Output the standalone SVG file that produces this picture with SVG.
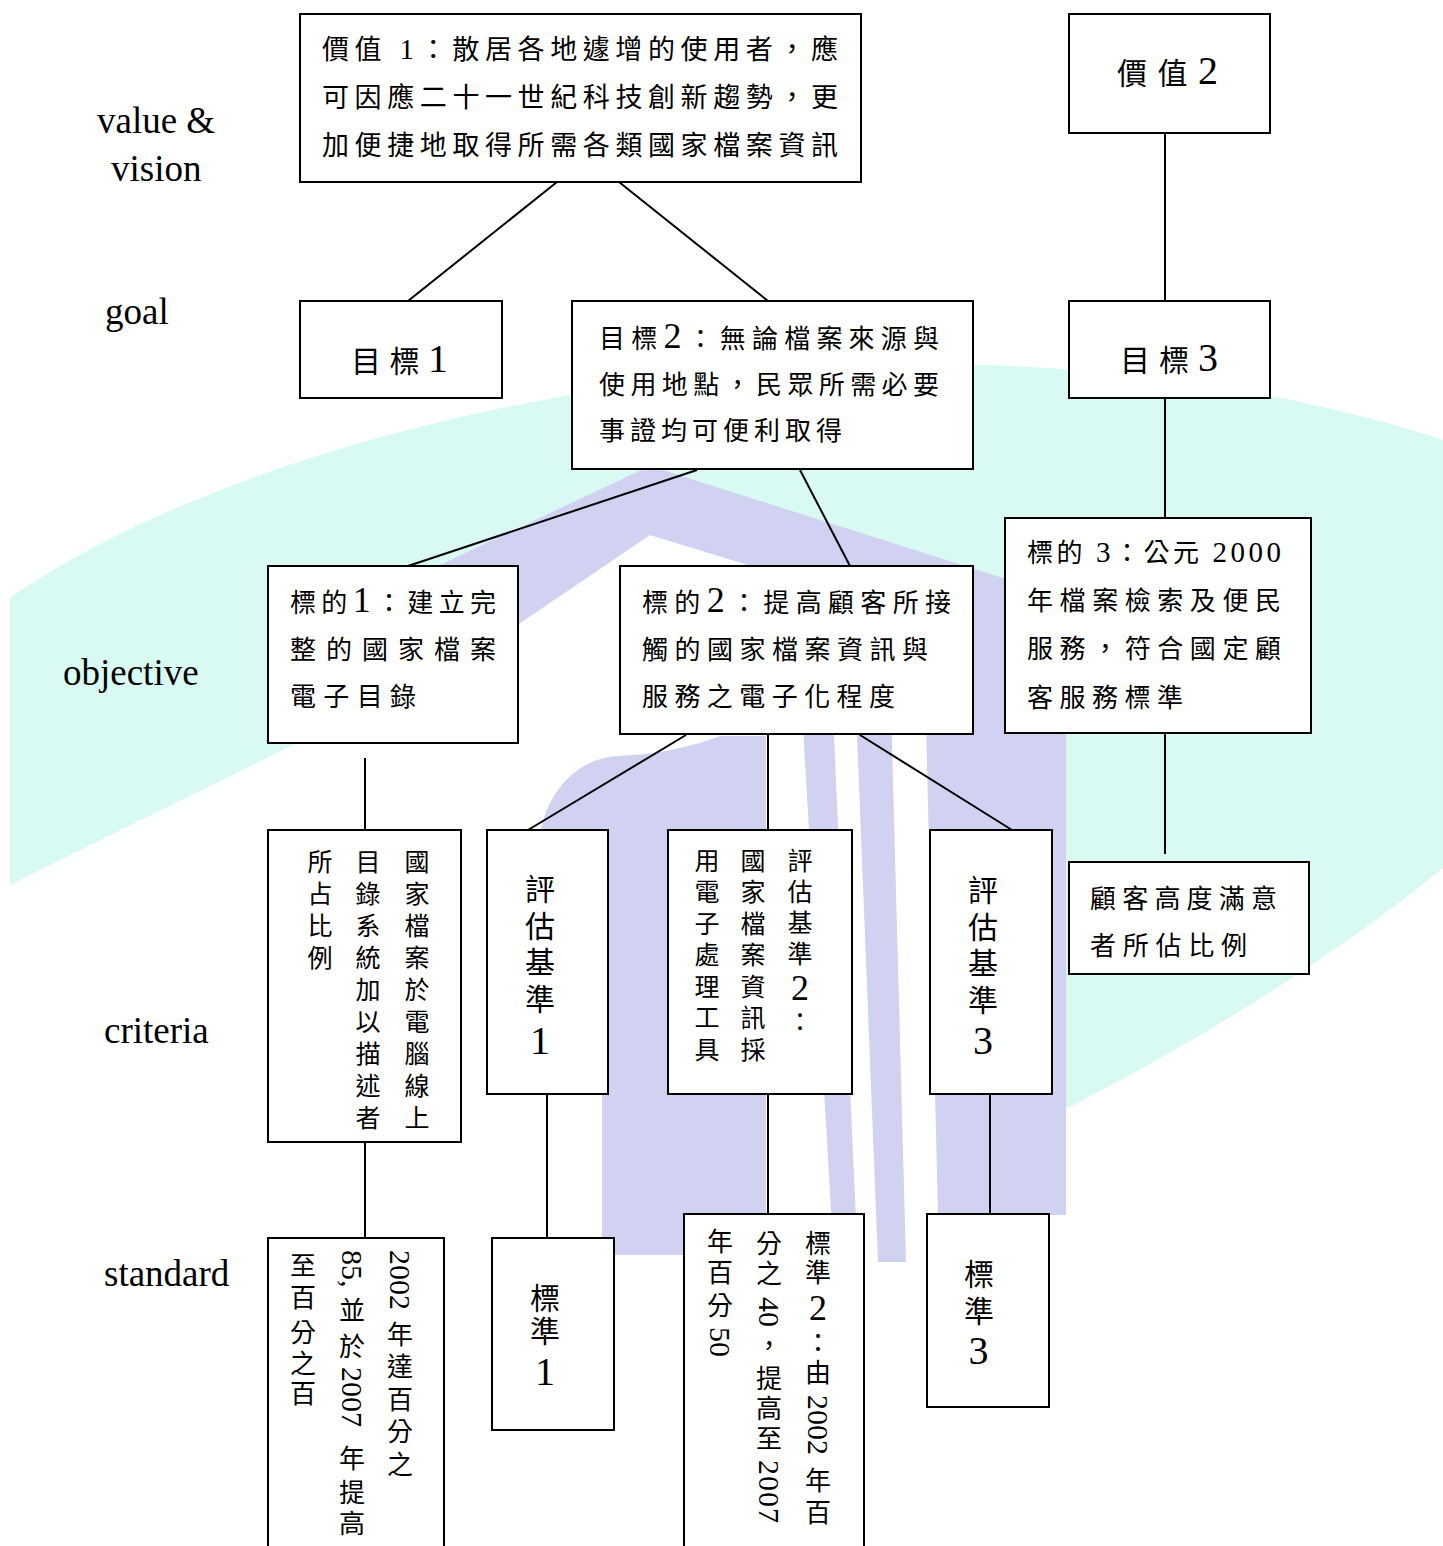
<svg xmlns="http://www.w3.org/2000/svg" width="1443" height="1546" viewBox="0 0 1443 1546">
<style>
.box{fill:#fff;stroke:#000;stroke-width:2}
.ln{stroke:#000;stroke-width:2;fill:none}
.lab{font-family:"Liberation Serif",serif;font-size:37px;fill:#000}
.h26{font-family:"Liberation Serif","Noto Sans CJK TC",serif;font-size:26px;fill:#000}
.h27{font-family:"Liberation Serif","Noto Sans CJK TC",serif;font-size:27px;fill:#000}
.h30{font-family:"Liberation Serif","Noto Sans CJK TC",serif;font-size:30px;fill:#000}
.v25{font-family:"Liberation Serif","Noto Sans CJK TC",serif;font-size:25px;fill:#000}
.v26{font-family:"Liberation Serif","Noto Sans CJK TC",serif;font-size:26px;fill:#000}
.v30{font-family:"Liberation Serif","Noto Sans CJK TC",serif;font-size:30px;fill:#000}
.dg36{font-size:36px}
.dg40{font-size:40px}
.n29{font-size:29px}
.rd{font-family:"Liberation Serif",serif;font-size:30px}
.cy{fill:#d8faf3}
.pu{fill:#d1d1f1}
</style>
<rect x="0" y="0" width="1443" height="1546" fill="#fff"/>
<g id="watermark">
<path class="cy" d="M10 598 C150 500 420 398 780 368 C1060 350 1300 392 1443 440 L1443 868 C1330 960 1200 1040 1068 1108 L1060 1108 L1060 662 L650 535 L470 657 L10 885 Z"/>
<polygon class="pu" points="425,572 650,466 1066,598 1066,662 650,535 470,657"/>
<path class="pu" d="M540 834 C548 790 578 758 618 756 C650 755 690 748 720 736 L766 736 L766 1255 L602 1255 L602 1094 L540 1094 Z"/>
<polygon class="pu" points="798,640 830,650 858,1262 834,1262"/>
<polygon class="pu" points="854,660 890,670 906,1262 878,1262"/>
<polygon class="pu" points="923,600 1066,640 1066,1215 938,1215"/>
</g>
<g id="levels">
<text class="lab" x="97" y="133">value &amp;</text>
<text class="lab" x="111" y="181">vision</text>
<text class="lab" x="105" y="324">goal</text>
<text class="lab" x="63" y="685">objective</text>
<text class="lab" x="104" y="1043">criteria</text>
<text class="lab" x="104" y="1286">standard</text>
</g>
<g id="connectors">
<line class="ln" x1="557" y1="182" x2="408" y2="301"/>
<line class="ln" x1="619" y1="182" x2="768" y2="301"/>
<line class="ln" x1="1165" y1="133" x2="1165" y2="301"/>
<line class="ln" x1="697" y1="470" x2="408" y2="566"/>
<line class="ln" x1="800" y1="470" x2="850" y2="566"/>
<line class="ln" x1="1165" y1="398" x2="1165" y2="518"/>
<line class="ln" x1="365" y1="758" x2="365" y2="830"/>
<line class="ln" x1="686" y1="735" x2="528" y2="830"/>
<line class="ln" x1="768" y1="734" x2="768" y2="830"/>
<line class="ln" x1="860" y1="735" x2="1012" y2="830"/>
<line class="ln" x1="1165" y1="733" x2="1165" y2="854"/>
<line class="ln" x1="365" y1="1142" x2="365" y2="1238"/>
<line class="ln" x1="547" y1="1094" x2="547" y2="1238"/>
<line class="ln" x1="768" y1="1094" x2="768" y2="1214"/>
<line class="ln" x1="990" y1="1094" x2="990" y2="1214"/>
</g>
<g id="n-value1">
<rect class="box" x="300" y="14" width="561" height="168"/>
<text class="h27" x="322" y="59" textLength="516" lengthAdjust="spacing">價值 <tspan class="n29">1</tspan>：散居各地遽增的使用者，應</text>
<text class="h27" x="322" y="107" textLength="516" lengthAdjust="spacing">可因應二十一世紀科技創新趨勢，更</text>
<text class="h27" x="322" y="155" textLength="516" lengthAdjust="spacing">加便捷地取得所需各類國家檔案資訊</text>
</g>
<g id="n-value2">
<rect class="box" x="1069" y="14" width="201" height="119"/>
<text class="h30" x="1117" y="84" textLength="101" lengthAdjust="spacing">價值<tspan class="dg40">2</tspan></text>
</g>
<g id="n-goal1">
<rect class="box" x="300" y="301" width="202" height="97"/>
<text class="h30" x="351" y="372" textLength="97" lengthAdjust="spacing">目標<tspan class="dg40">1</tspan></text>
</g>
<g id="n-goal2">
<rect class="box" x="572" y="301" width="401" height="168"/>
<text class="h26" x="599" y="348" textLength="340" lengthAdjust="spacing">目標<tspan class="dg36">2</tspan>：無論檔案來源與</text>
<text class="h26" x="599" y="394" textLength="340" lengthAdjust="spacing">使用地點，民眾所需必要</text>
<text class="h26" x="599" y="440" textLength="243" lengthAdjust="spacing">事證均可便利取得</text>
</g>
<g id="n-goal3">
<rect class="box" x="1069" y="301" width="201" height="97"/>
<text class="h30" x="1120" y="371" textLength="98" lengthAdjust="spacing">目標<tspan class="dg40">3</tspan></text>
</g>
<g id="n-obj1">
<rect class="box" x="268" y="566" width="250" height="177"/>
<text class="h26" x="290" y="612" textLength="206" lengthAdjust="spacing">標的<tspan class="dg36">1</tspan>：建立完</text>
<text class="h26" x="290" y="659" textLength="206" lengthAdjust="spacing">整的國家檔案</text>
<text class="h26" x="290" y="706" textLength="126" lengthAdjust="spacing">電子目錄</text>
</g>
<g id="n-obj2">
<rect class="box" x="620" y="566" width="353" height="168"/>
<text class="h26" x="642" y="612" textLength="309" lengthAdjust="spacing">標的<tspan class="dg36">2</tspan>：提高顧客所接</text>
<text class="h26" x="642" y="659" textLength="286" lengthAdjust="spacing">觸的國家檔案資訊與</text>
<text class="h26" x="642" y="706" textLength="253" lengthAdjust="spacing">服務之電子化程度</text>
</g>
<g id="n-obj3">
<rect class="box" x="1005" y="518" width="306" height="215"/>
<text class="h26" x="1027" y="562" textLength="254" lengthAdjust="spacing">標的 <tspan class="n29">3</tspan>：公元 <tspan class="n29">2000</tspan></text>
<text class="h26" x="1027" y="610" textLength="254" lengthAdjust="spacing">年檔案檢索及便民</text>
<text class="h26" x="1027" y="658" textLength="254" lengthAdjust="spacing">服務，符合國定顧</text>
<text class="h26" x="1027" y="707" textLength="156" lengthAdjust="spacing">客服務標準</text>
</g>
<g id="n-crit1">
<rect class="box" x="268" y="830" width="193" height="312"/>
<text class="v25" x="404.5 404.5 404.5 404.5 404.5 404.5 404.5 404.5 404.5" y="870.5 902.5 934.5 966.5 998.5 1030.5 1062.5 1094.5 1126.5">國家檔案於電腦線上</text>
<text class="v25" x="355.5 355.5 355.5 355.5 355.5 355.5 355.5 355.5 355.5" y="870.5 902.5 934.5 966.5 998.5 1030.5 1062.5 1094.5 1126.5">目錄系統加以描述者</text>
<text class="v25" x="307.5 307.5 307.5 307.5" y="870.5 902.5 934.5 966.5">所占比例</text>
</g>
<g id="n-crit2">
<rect class="box" x="487" y="830" width="121" height="264"/>
<text class="v30"><tspan x="525 525 525 525" y="900 937 973 1010">評估基準</tspan><tspan class="dg40" x="530" y="1054">1</tspan></text>
</g>
<g id="n-crit3">
<rect class="box" x="668" y="830" width="184" height="264"/>
<text class="v25"><tspan x="787.5 787.5 787.5 787.5" y="869.5 900.5 931.5 962.5">評估基準</tspan><tspan class="dg36" x="791" y="1000">2</tspan><tspan x="787.5" y="1031">：</tspan></text>
<text class="v25" x="740.5 740.5 740.5 740.5 740.5 740.5 740.5" y="869.5 901 932.5 964 995.5 1027 1058.5">國家檔案資訊採</text>
<text class="v25" x="694.5 694.5 694.5 694.5 694.5 694.5 694.5" y="869.5 901 932.5 964 995.5 1027 1058.5">用電子處理工具</text>
</g>
<g id="n-crit4">
<rect class="box" x="930" y="830" width="122" height="264"/>
<text class="v30"><tspan x="968 968 968 968" y="901 938 974 1011">評估基準</tspan><tspan class="dg40" x="973" y="1054">3</tspan></text>
</g>
<g id="n-crit5">
<rect class="box" x="1069" y="862" width="240" height="112"/>
<text class="h26" x="1090" y="908" textLength="187" lengthAdjust="spacing">顧客高度滿意</text>
<text class="h26" x="1090" y="955" textLength="157" lengthAdjust="spacing">者所佔比例</text>
</g>
<g id="n-std1">
<rect class="box" x="268" y="1238" width="176" height="330"/>
<text class="v26"><tspan class="rd" x="390 390 390 390" y="1250 1265 1280 1295" rotate="90">2002 </tspan><tspan x="387 387 387 387 387" y="1344 1376 1409 1441 1474">年達百分之</tspan></text>
<text class="v26"><tspan class="rd" x="342 342 342" y="1250 1265 1280" rotate="90">85,</tspan><tspan x="339 339" y="1320 1356">並於</tspan><tspan class="rd" x="342 342 342 342 342 342" y="1360 1367 1382 1397 1412 1427" rotate="90"> 2007 </tspan><tspan x="339 339 339" y="1468 1502 1533">年提高</tspan></text>
<text class="v26" x="290 290 290 290 290" y="1275 1307 1342 1373 1403">至百分之百</text>
</g>
<g id="n-std2">
<rect class="box" x="492" y="1238" width="122" height="192"/>
<text class="v30"><tspan x="530 530" y="1308.5 1341.5">標準</tspan><tspan class="dg40" x="535" y="1385">1</tspan></text>
</g>
<g id="n-std3">
<rect class="box" x="684" y="1214" width="180" height="354"/>
<text class="v26"><tspan x="805 805" y="1253 1282">標準</tspan><tspan class="dg36" x="809" y="1320">2</tspan><tspan x="805 805" y="1352 1382">：由</tspan><tspan class="rd" x="808 808 808 808 808 808" y="1388 1395 1410 1425 1440 1455" rotate="90"> 2002 </tspan><tspan x="805 805" y="1490 1522">年百</tspan></text>
<text class="v26"><tspan x="756 756" y="1253 1283">分之</tspan><tspan class="rd" x="759 759 759" y="1290 1297 1312" rotate="90"> 40</tspan><tspan x="756 756 756 756" y="1355 1388 1418 1448">，提高至</tspan><tspan class="rd" x="759 759 759 759 759" y="1453 1460 1476 1492 1508" rotate="90"> 2007</tspan></text>
<text class="v26"><tspan x="707 707 707" y="1251 1282 1315">年百分</tspan><tspan class="rd" x="710 710 710" y="1320 1327 1342" rotate="90"> 50</tspan></text>
</g>
<g id="n-std4">
<rect class="box" x="927" y="1214" width="122" height="193"/>
<text class="v30"><tspan x="964 964" y="1284.5 1321.5">標準</tspan><tspan class="dg40" x="968.5" y="1364">3</tspan></text>
</g>
</svg>
